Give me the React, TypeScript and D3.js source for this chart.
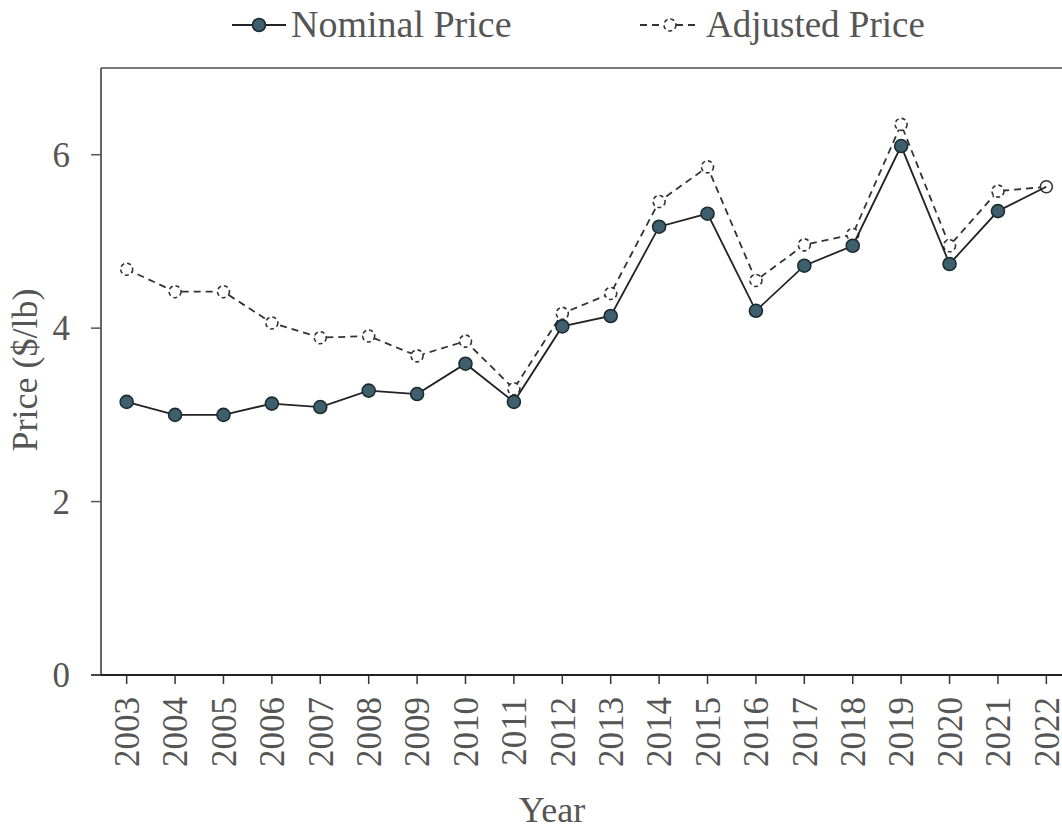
import React from "react";
import * as d3 from "d3";

const years = [2003, 2004, 2005, 2006, 2007, 2008, 2009, 2010, 2011, 2012, 2013, 2014, 2015, 2016, 2017, 2018, 2019, 2020, 2021, 2022];
const nominal = [3.15, 3.0, 3.0, 3.13, 3.09, 3.28, 3.24, 3.59, 3.15, 4.02, 4.14, 5.17, 5.32, 4.2, 4.72, 4.95, 6.1, 4.74, 5.35, 5.63];
const adjusted = [4.68, 4.42, 4.42, 4.06, 3.89, 3.91, 3.68, 3.85, 3.3, 4.17, 4.4, 5.46, 5.86, 4.55, 4.96, 5.08, 6.35, 4.95, 5.58, 5.63];
const yTicks = [0, 2, 4, 6];
const seriesNames = ["Nominal Price", "Adjusted Price"];

const W = 1062;
const H = 837;
const FONT = "'Liberation Serif', 'Times New Roman', serif";
const TEXT = "#555";

export default function App() {
  const x = d3.scaleLinear().domain([2002.47, 2022.53]).range([101, 1072]);
  const y = d3.scaleLinear().domain([0, 7]).range([675, 68]);
  const line = d3
    .line<number>()
    .x((_, i) => x(years[i]))
    .y((d) => y(d));

  return (
    <div style={{ position: "absolute", left: 0, top: 0 }}>
      <svg width={W} height={H} style={{ display: "block", background: "#fff" }} fontFamily={FONT}>
        {/* frame */}
        <line x1={x.range()[0]} x2={x.range()[1]} y1={y(7)} y2={y(7)} stroke="#777" strokeWidth={2} />
        <line x1={x.range()[0]} x2={x.range()[0]} y1={y(7)} y2={y(0)} stroke="#666" strokeWidth={2} />
        <line x1={x.range()[1]} x2={x.range()[1]} y1={y(7)} y2={y(0)} stroke="#666" strokeWidth={2} />
        <line x1={x.range()[0] - 10} x2={x.range()[1]} y1={y(0)} y2={y(0)} stroke="#222" strokeWidth={2} />

        {/* y ticks */}
        {yTicks.map((t) => (
          <g key={t}>
            <line x1={x.range()[0] - 10} x2={x.range()[0]} y1={y(t)} y2={y(t)} stroke="#555" strokeWidth={1.5} />
            <text x={70} y={y(t)} dy="0.35em" textAnchor="end" fontSize={35} fill={TEXT}>
              {t}
            </text>
          </g>
        ))}

        {/* x ticks */}
        {years.map((yr) => (
          <g key={yr}>
            <line x1={x(yr)} x2={x(yr)} y1={y(0)} y2={y(0) + 9} stroke="#333" strokeWidth={1.5} />
            <text
              transform={`translate(${x(yr)},${y(0) + 22}) rotate(-90)`}
              dy="0.35em"
              textAnchor="end"
              fontSize={35}
              fill={TEXT}
            >
              {yr}
            </text>
          </g>
        ))}

        {/* axis titles */}
        <text x={552} y={822} textAnchor="middle" fontSize={36} fill={TEXT}>
          Year
        </text>
        <text transform={`translate(37,370) rotate(-90)`} textAnchor="middle" fontSize={36} fill={TEXT}>
          Price ($/lb)
        </text>

        {/* adjusted series */}
        <path d={line(adjusted) || ""} fill="none" stroke="#333" strokeWidth={1.8} strokeDasharray="7,5" />
        {adjusted.map((v, i) => (
          <circle
            key={"a" + i}
            cx={x(years[i])}
            cy={y(v)}
            r={6}
            fill="#fff"
            stroke="#333"
            strokeWidth={1.6}
            strokeDasharray={i === adjusted.length - 1 ? undefined : "4,3"}
          />
        ))}

        {/* nominal series */}
        <path d={line(nominal) || ""} fill="none" stroke="#222" strokeWidth={1.8} />
        {nominal.slice(0, nominal.length - 1).map((v, i) => (
          <circle key={"n" + i} cx={x(years[i])} cy={y(v)} r={6.5} fill="#3e5f6e" stroke="#1d2b30" strokeWidth={1.6} />
        ))}

        {/* legend */}
        <g>
          <line x1={232} x2={286} y1={25} y2={25} stroke="#222" strokeWidth={1.8} />
          <circle cx={259} cy={25} r={6.5} fill="#3e5f6e" stroke="#1d2b30" strokeWidth={1.6} />
          <text x={291} y={37} fontSize={38} fill={TEXT}>
            {seriesNames[0]}
          </text>
          <line x1={640} x2={700} y1={25} y2={25} stroke="#333" strokeWidth={1.8} strokeDasharray="7,5" />
          <circle cx={670} cy={25} r={6} fill="#fff" stroke="#333" strokeWidth={1.6} strokeDasharray="4,3" />
          <text x={706} y={37} fontSize={37} fill={TEXT}>
            {seriesNames[1]}
          </text>
        </g>
      </svg>
    </div>
  );
}
